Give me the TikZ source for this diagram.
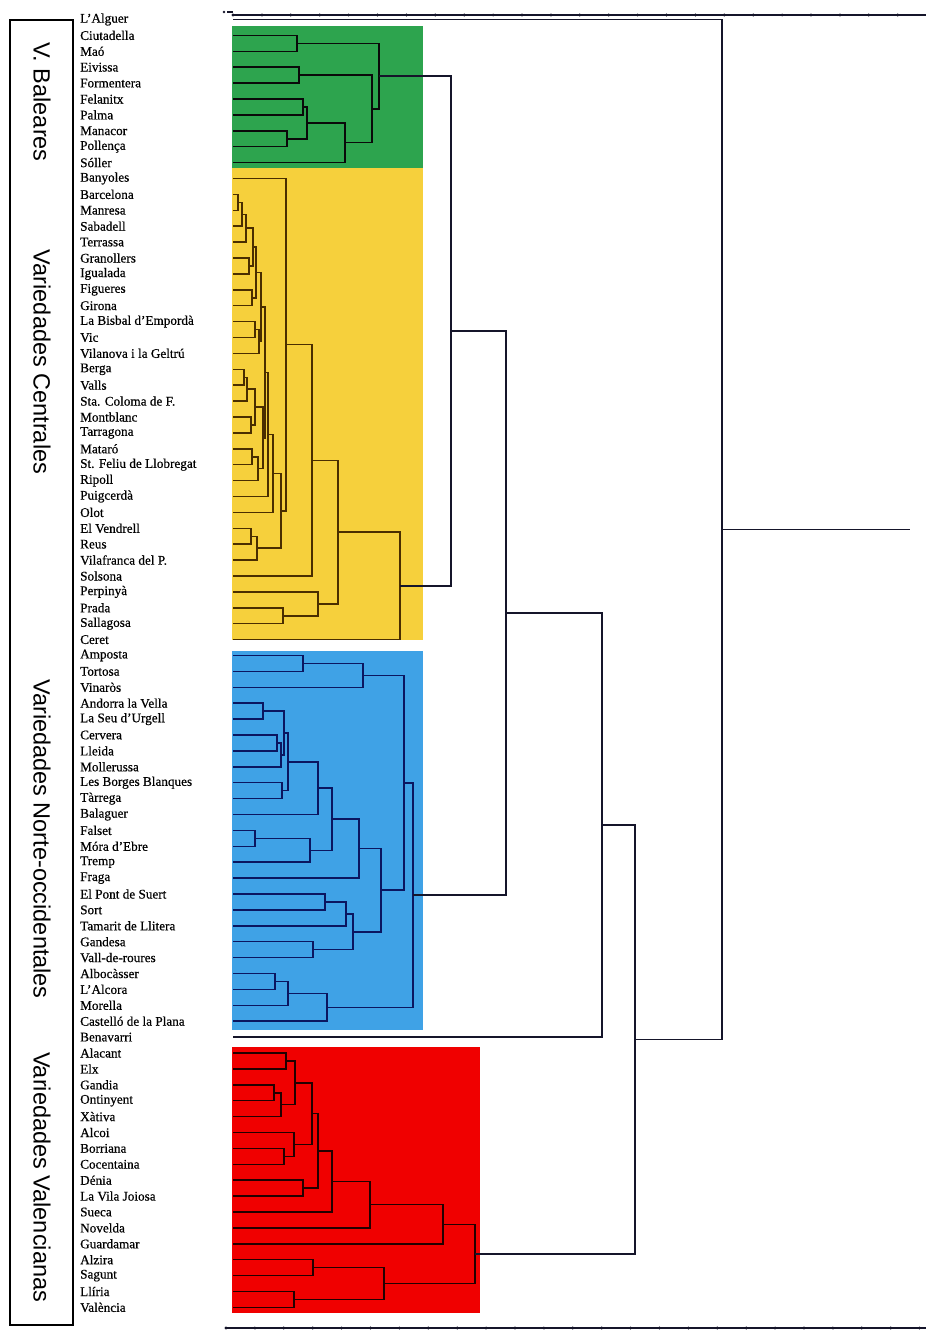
\documentclass[tikz,border=0pt]{standalone}
\usepackage{fontspec}
\setmainfont{Liberation Serif}
\newfontfamily\labfont{Liberation Serif}[FakeBold=0.5]
\newfontfamily\grpfont{Liberation Sans}
\usetikzlibrary{calc}
\definecolor{cgreen}{HTML}{2DA44E}
\definecolor{cyellow}{HTML}{F6D03C}
\definecolor{cblue}{HTML}{3FA2E6}
\definecolor{cred}{HTML}{F00000}
\definecolor{lgreen}{HTML}{0A0A0A}
\definecolor{lyellow}{HTML}{4A2E00}
\definecolor{lblue}{HTML}{0B1660}
\definecolor{lred}{HTML}{220000}
\definecolor{lout}{HTML}{15152A}
\newcommand{\jn}[4]{%
  \path let \p1=($(#2)!0.5!(#3)$) in (#4pt,\y1) coordinate (#1);
  \draw[tree] (#2) -| (#1) |- (#3);}
\begin{document}
\begin{tikzpicture}[x=1pt,y=-1pt,
  tree/.style={line width=1.5pt},
  lab/.style={anchor=west,inner sep=0pt,font=\labfont\fontsize{13.2}{14}\selectfont},
  grp/.style={rotate=-90,inner sep=0pt,font=\grpfont\fontsize{23.5}{24}\selectfont},
  axis/.style={line width=1.5pt,draw=lout}]
\fill[white] (0,0) rectangle (926,1330);
\useasboundingbox (0,0) rectangle (926,1330);
% coloured cluster panels
\fill[cgreen] (232,26) rectangle (423,168);
\fill[cyellow] (232,168) rectangle (423,640);
\fill[cblue] (232,651) rectangle (423,1030);
\fill[cred] (232,1047) rectangle (480,1313);
% group box and labels
\draw[line width=1.3pt] (10,20) rectangle (73,1325);
\node[grp] (gBal) at (42,102) {V. Baleares};
\node[grp] (gCen) at (42,362) {Variedades Centrales};
\node[grp] (gNor) at (42,839) {Variedades Norte-occidentales};
\node[grp] (gVal) at (42,1177) {Variedades Valencianas};
% leaves
\foreach \t [count=\i] in {L’Alguer,Ciutadella,Maó,Eivissa,Formentera,Felanitx,Palma,Manacor,Pollença,Sóller,%
Banyoles,Barcelona,Manresa,Sabadell,Terrassa,Granollers,Igualada,Figueres,Girona,La Bisbal d’Empordà,%
Vic,Vilanova i la Geltrú,Berga,Valls,Sta. Coloma de F.,Montblanc,Tarragona,Mataró,St. Feliu de Llobregat,Ripoll,%
Puigcerdà,Olot,El Vendrell,Reus,Vilafranca del P.,Solsona,Perpinyà,Prada,Sallagosa,Ceret,%
Amposta,Tortosa,Vinaròs,Andorra la Vella,La Seu d’Urgell,Cervera,Lleida,Mollerussa,Les Borges Blanques,Tàrrega,%
Balaguer,Falset,Móra d’Ebre,Tremp,Fraga,El Pont de Suert,Sort,Tamarit de Llitera,Gandesa,Vall-de-roures,%
Albocàsser,L’Alcora,Morella,Castelló de la Plana,Benavarri,Alacant,Elx,Gandia,Ontinyent,Xàtiva,%
Alcoi,Borriana,Cocentaina,Dénia,La Vila Joiosa,Sueca,Novelda,Guardamar,Alzira,Sagunt,%
Llíria,València}{
  \pgfmathsetmacro\yy{19.5+(\i-1)*15.9}
  \node[lab] (t\i) at (80,\yy) {\t};
  \coordinate (l\i) at (233,\yy);
}
% axes
\draw[axis] (233,15) -- (926,15);
\foreach \k in {0,...,23} \fill[lout] (233+\k*28.9,15) circle (1.6);
\fill[lout] (224,12) circle (1.4);
\fill[lout] (227,10.8) rectangle (233,13.4);
\draw[axis] (226,1328) -- (926,1328);
\foreach \k in {0,...,24} \fill[lout] (226+\k*28.9,1328) circle (1.6);
% green cluster
\begin{scope}[tree/.append style={draw=lgreen}]
\jn{g1}{l2}{l3}{297}
\jn{g2}{l4}{l5}{299}
\jn{g3}{l6}{l7}{303}
\jn{g4}{l8}{l9}{287}
\jn{g5}{g3}{g4}{307}
\jn{g6}{g5}{l10}{345}
\jn{g7}{g2}{g6}{372}
\jn{g8}{g1}{g7}{379}
\end{scope}
% yellow cluster
\begin{scope}[tree/.append style={draw=lyellow}]
\jn{u1}{l12}{l13}{238}
\jn{u2}{u1}{l14}{242}
\jn{u3}{u2}{l15}{246}
\jn{u4}{l16}{l17}{249}
\jn{u5}{u3}{u4}{253}
\jn{u6}{l18}{l19}{252}
\jn{u7}{u5}{u6}{256}
\jn{u8}{l20}{l21}{255}
\jn{u9}{u8}{l22}{259}
\jn{u10}{u7}{u9}{261}
\jn{u11}{l23}{l24}{244}
\jn{u12}{u11}{l25}{247}
\jn{u13}{l26}{l27}{251}
\jn{u14}{u12}{u13}{255}
\jn{u15}{l28}{l29}{252}
\jn{u16}{u15}{l30}{258}
\jn{u17}{u14}{u16}{263}
\jn{u18}{u10}{u17}{265}
\jn{u19}{u18}{l31}{268}
\jn{u20}{u19}{l32}{273}
\jn{v1}{l33}{l34}{251}
\jn{v2}{v1}{l35}{257}
\jn{yb}{u20}{v2}{281}
\jn{yc}{l11}{yb}{286}
\jn{yd}{yc}{l36}{312}
\jn{ye}{l38}{l39}{283}
\jn{yf}{l37}{ye}{318}
\jn{yg}{yd}{yf}{338}
\jn{Y}{yg}{l40}{400}
\end{scope}
% blue cluster
\begin{scope}[tree/.append style={draw=lblue}]
\jn{b1}{l41}{l42}{303}
\jn{b2}{b1}{l43}{363}
\jn{b3}{l44}{l45}{263}
\jn{b4}{l46}{l47}{277}
\jn{b5}{b4}{l48}{281}
\jn{b6}{b3}{b5}{284}
\jn{b7}{l49}{l50}{282}
\jn{b8}{b6}{b7}{288}
\jn{b9}{b8}{l51}{318}
\jn{b10}{l52}{l53}{255}
\jn{b11}{b10}{l54}{310}
\jn{b12}{b9}{b11}{332}
\jn{b13}{b12}{l55}{359}
\jn{b14}{l56}{l57}{325}
\jn{b15}{b14}{l58}{346}
\jn{b16}{l59}{l60}{313}
\jn{b17}{b15}{b16}{353}
\jn{b18}{b13}{b17}{381}
\jn{b19}{b2}{b18}{404}
\jn{b20}{l61}{l62}{275}
\jn{b21}{b20}{l63}{288}
\jn{b22}{b21}{l64}{327}
\jn{B}{b19}{b22}{413}
\end{scope}
% red cluster
\begin{scope}[tree/.append style={draw=lred}]
\jn{r1}{l66}{l67}{286}
\jn{r2}{l68}{l69}{274}
\jn{r3}{r2}{l70}{281}
\jn{r4}{r1}{r3}{295}
\jn{r5}{l72}{l73}{284}
\jn{r6}{l71}{r5}{294}
\jn{r7}{r4}{r6}{312}
\jn{r8}{l74}{l75}{303}
\jn{r9}{r7}{r8}{318}
\jn{r10}{r9}{l76}{332}
\jn{r11}{r10}{l77}{370}
\jn{r12}{r11}{l78}{443}
\jn{r13}{l79}{l80}{313}
\jn{r14}{l81}{l82}{294}
\jn{r15}{r13}{r14}{384}
\jn{R}{r12}{r15}{475}
\end{scope}
% upper levels
\begin{scope}[tree/.append style={draw=lout}]
\jn{o1}{g8}{Y}{451}
\jn{o2}{o1}{B}{506}
\jn{o3}{o2}{l65}{602}
\jn{o4}{o3}{R}{635}
\jn{o5}{l1}{o4}{722}
\coordinate (oend) at ($(o5)+(188,0)$);
\draw[tree] (o5) -- (oend);
\end{scope}
\end{tikzpicture}
\end{document}
